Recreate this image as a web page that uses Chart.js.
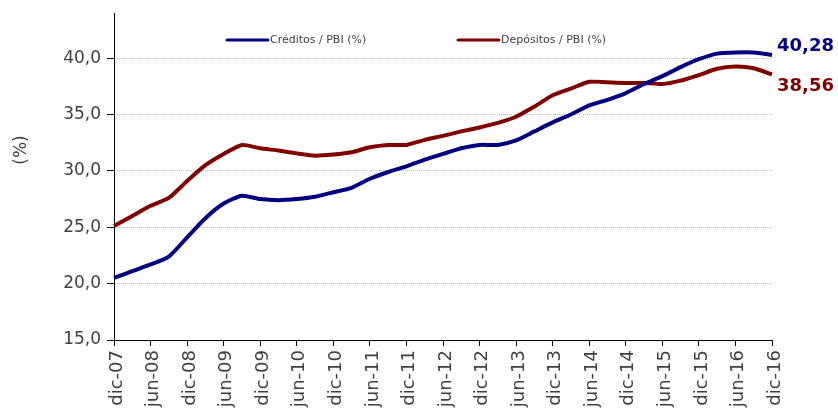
<!DOCTYPE html>
<html>
<head>
<meta charset="utf-8">
<script src="https://cdn.jsdelivr.net/npm/chart.js@4/dist/chart.umd.min.js"></script>
<style>
    html, body { margin: 0; padding: 0; background: #fff; }
    #wrap { width: 838px; height: 414px; }
</style>
</head>
<body>
<div id="wrap"><canvas id="ratioChart" width="838" height="414"></canvas></div>
<script>
// Quarterly data, dic-07 .. dic-16
const quarters = [
    'dic-07', 'mar-08', 'jun-08', 'sep-08', 'dic-08', 'mar-09', 'jun-09', 'sep-09',
    'dic-09', 'mar-10', 'jun-10', 'sep-10', 'dic-10', 'mar-11', 'jun-11', 'sep-11',
    'dic-11', 'mar-12', 'jun-12', 'sep-12', 'dic-12', 'mar-13', 'jun-13', 'sep-13',
    'dic-13', 'mar-14', 'jun-14', 'sep-14', 'dic-14', 'mar-15', 'jun-15', 'sep-15',
    'dic-15', 'mar-16', 'jun-16', 'sep-16', 'dic-16'
];

const creditos = [
    20.5, 21.1, 21.7, 22.4, 24.1, 25.8, 27.1, 27.8,
    27.5, 27.4, 27.5, 27.7, 28.1, 28.5, 29.3, 29.9,
    30.4, 31.0, 31.5, 32.0, 32.3, 32.3, 32.7, 33.5,
    34.3, 35.0, 35.8, 36.3, 36.9, 37.7, 38.4, 39.2,
    39.9, 40.4, 40.5, 40.5, 40.28
];

const depositos = [
    25.1, 26.0, 26.9, 27.6, 29.1, 30.5, 31.5, 32.3,
    32.0, 31.8, 31.55, 31.35, 31.45, 31.65, 32.1, 32.3,
    32.3, 32.75, 33.1, 33.5, 33.85, 34.25, 34.8, 35.7,
    36.7, 37.3, 37.9, 37.85, 37.8, 37.8, 37.7, 38.0,
    38.5, 39.05, 39.25, 39.1, 38.56
];

const yTicks = [15, 20, 25, 30, 35, 40];
const seriesNames = ['Créditos / PBI (%)', 'Depósitos / PBI (%)'];
const colors = ['#000080', '#800000'];

const FONT = "'DejaVu Sans', Verdana, sans-serif";
const TEXT = '#404040';

const fmt = (v, d) => v.toFixed(d).replace('.', ',');

// Legend, axis title and end-of-line labels drawn on top of the chart
const overlayPlugin = {
    id: 'overlay',
    afterDraw(chart) {
        const ctx = chart.ctx;
        const xs = chart.scales.x;
        const ys = chart.scales.y;
        ctx.save();

        // legend inside the plot
        const legendPos = [227, 458];
        ctx.font = '11px ' + FONT;
        ctx.textBaseline = 'middle';
        seriesNames.forEach((name, i) => {
            const x0 = legendPos[i];
            ctx.strokeStyle = colors[i];
            ctx.lineWidth = 3;
            ctx.lineCap = 'round';
            ctx.beginPath();
            ctx.moveTo(x0, 40);
            ctx.lineTo(x0 + 41, 40);
            ctx.stroke();
            ctx.fillStyle = TEXT;
            ctx.textAlign = 'left';
            ctx.fillText(name, x0 + 43, 40);
        });

        // y axis title
        ctx.translate(22, 150);
        ctx.rotate(-Math.PI / 2);
        ctx.font = '17px ' + FONT;
        ctx.fillStyle = TEXT;
        ctx.textAlign = 'center';
        ctx.fillText('(%)', 0, 0);
        ctx.setTransform(1, 0, 0, 1, 0, 0);

        // last values
        const last = quarters.length - 1;
        const endX = xs.getPixelForValue(last) + 5;
        ctx.font = 'bold 18px ' + FONT;
        ctx.textAlign = 'left';
        ctx.textBaseline = 'middle';
        ctx.fillStyle = colors[0];
        ctx.fillText(fmt(creditos[last], 2), endX, ys.getPixelForValue(creditos[last]) - 9);
        ctx.fillStyle = colors[1];
        ctx.fillText(fmt(depositos[last], 2), endX, ys.getPixelForValue(depositos[last]) + 12);

        ctx.restore();
    }
};

new Chart(document.getElementById('ratioChart'), {
    type: 'line',
    data: {
        labels: quarters,
        datasets: [{
            label: seriesNames[0],
            data: creditos,
            borderColor: colors[0],
            borderWidth: 4,
            pointRadius: 0,
            tension: 0.2
        }, {
            label: seriesNames[1],
            data: depositos,
            borderColor: colors[1],
            borderWidth: 4,
            pointRadius: 0,
            tension: 0.2
        }]
    },
    options: {
        responsive: false,
        animation: false,
        layout: {
            padding: { top: 13, right: 66, bottom: 0, left: 0 }
        },
        plugins: {
            legend: { display: false },
            tooltip: { enabled: false }
        },
        scales: {
            x: {
                offset: false,
                afterBuildTicks: (scale) => {
                    // one label every two quarters
                    scale.ticks = scale.ticks.filter(t => t.value % 2 === 0);
                },
                afterFit: (scale) => {
                    scale.height = 74;
                    scale.paddingLeft = 0;
                    scale.paddingRight = 0;
                },
                border: { color: '#000', width: 1 },
                grid: {
                    drawOnChartArea: false,
                    drawTicks: true,
                    tickLength: 6,
                    tickColor: '#000'
                },
                ticks: {
                    autoSkip: false,
                    minRotation: 90,
                    maxRotation: 90,
                    padding: 4,
                    labelOffset: 3,
                    color: TEXT,
                    font: { family: FONT, size: 18 }
                }
            },
            y: {
                min: 15,
                max: 44,
                afterBuildTicks: (scale) => {
                    scale.ticks = yTicks.map(v => ({ value: v }));
                },
                afterFit: (scale) => {
                    scale.width = 114;
                    scale.paddingTop = 0;
                    scale.paddingBottom = 0;
                },
                border: { color: '#000', width: 1, dash: [1, 1] },
                grid: {
                    color: (c) => (c.tick && c.tick.value === 15) ? 'rgba(0,0,0,0)' : '#bdbdbd',
                    tickLength: 7,
                    tickColor: '#000',
                    tickBorderDash: []
                },
                ticks: {
                    padding: 6,
                    color: TEXT,
                    font: { family: FONT, size: 17 },
                    callback: (v) => fmt(v, 1)
                }
            }
        }
    },
    plugins: [overlayPlugin]
});
</script>
</body>
</html>
